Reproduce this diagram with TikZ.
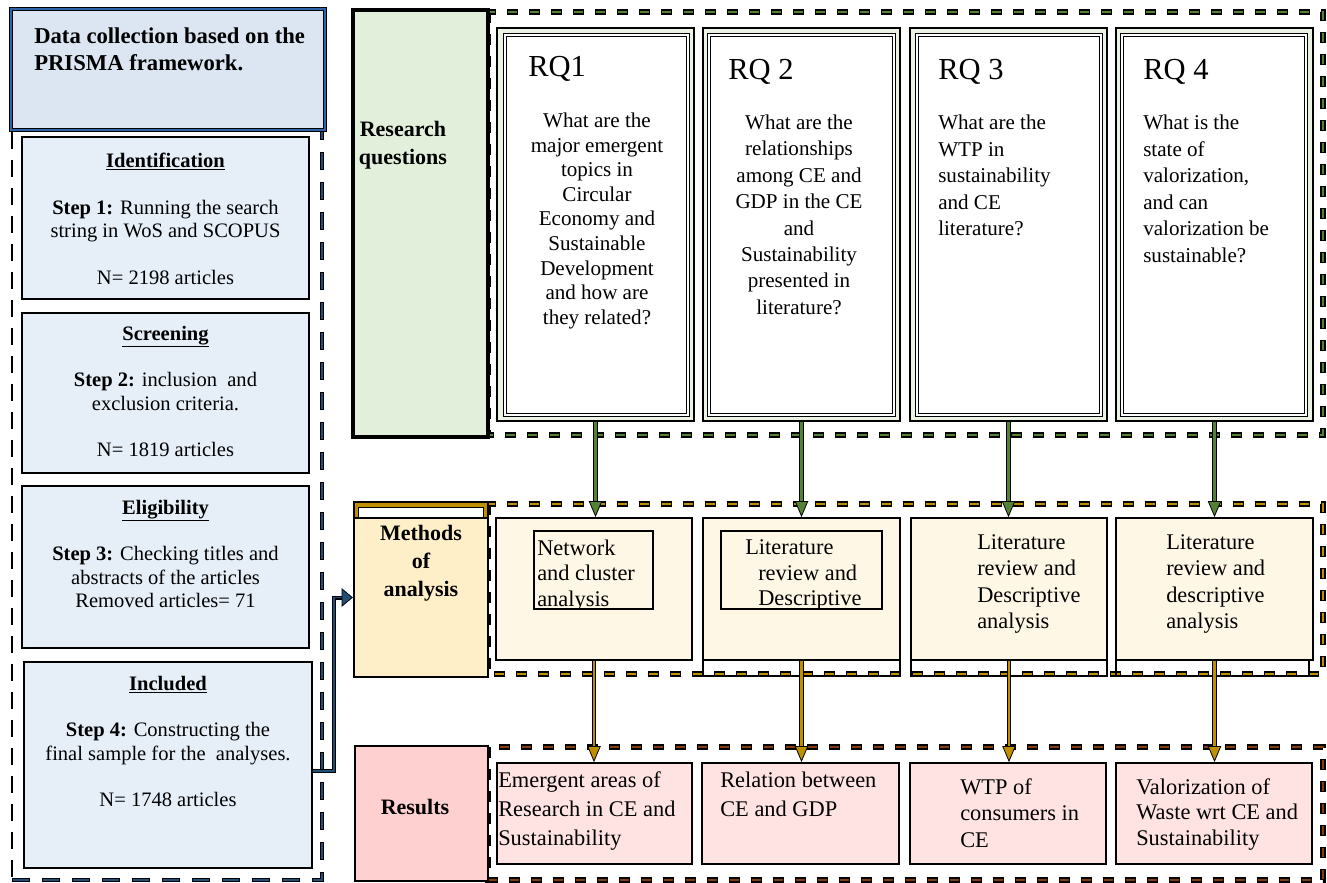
\documentclass[tikz,border=0pt]{standalone}
\usepackage{fontspec}
\setmainfont{Liberation Serif}
\usetikzlibrary{fit,arrows.meta}

\definecolor{navy}{HTML}{1F4E79}
\definecolor{titleblue}{HTML}{2E65A8}
\definecolor{titlefill}{HTML}{DCE6F2}
\definecolor{stepfill}{HTML}{E6EEF8}
\definecolor{leafgreen}{HTML}{548235}
\definecolor{rqlabelfill}{HTML}{E2EFDA}
\definecolor{rqframefill}{HTML}{EAF3E4}
\definecolor{gold}{HTML}{BF8F00}
\definecolor{methlabelfill}{HTML}{FFEFC9}
\definecolor{methfill}{HTML}{FFF7E5}
\definecolor{rustbrown}{HTML}{843C0C}
\definecolor{reslabelfill}{HTML}{FFD0D0}
\definecolor{resfill}{HTML}{FFE3E3}

\tikzset{
  boxframe/.style={inner sep=0pt, draw=black, line width=1.3pt},
  stepbox/.style={boxframe, fill=stepfill},
  rqframe/.style={boxframe, fill=rqframefill},
  rqinner/.style={inner sep=0pt, fill=white, draw=black, line width=0.7pt, double=white, double distance=1.6pt},
  methbox/.style={boxframe, fill=methfill},
  resbox/.style={boxframe, fill=resfill},
  backline/.style={inner sep=0pt, draw=black, line width=0.8pt},
  % short bold dashes with a black rim
  dashouter/.style={draw=black, line width=3.8pt, dash pattern=on 8pt off 8.5pt},
  dashinner/.style={line width=2.2pt, dash pattern=on 6.8pt off 9.7pt, dash phase=15.9pt},
  % longer dashes for the PRISMA column
  longouter/.style={draw=black, line width=3.4pt, dash pattern=on 13.5pt off 9pt},
  longinner/.style={line width=1.9pt, dash pattern=on 12.2pt off 10.3pt, dash phase=21.85pt},
  txt/.style={inner sep=0pt},
  lefttxt/.style={txt, anchor=north, align=center, font=\fontsize{15.4pt}{17.5pt}\selectfont},
  rqhead/.style={txt, anchor=north west, font=\fontsize{22.9pt}{26pt}\selectfont},
  labeltxt/.style={txt, anchor=north, align=center, font=\bfseries\fontsize{16.5pt}{21pt}\selectfont},
  shaftunder/.style={draw=black, line width=3.4pt, shorten >=10pt},
  greenarrow/.style={draw=leafgreen, line width=1.8pt,
    -{Triangle[length=12pt,width=10pt,fill=leafgreen,color=black,line width=0.6pt]}},
  goldarrow/.style={draw=gold, line width=1.8pt,
    -{Triangle[length=12pt,width=10pt,fill=gold,color=black,line width=0.6pt]}},
  navyarrow/.style={draw=navy, line width=1.4pt,
    -{Triangle[length=8.5pt,width=14pt,fill=navy,color=black,line width=0.6pt]}},
}

\begin{document}
\begin{tikzpicture}[x=0.75pt,y=-0.75pt]
\useasboundingbox (0,0) rectangle (1327,882);

% ---------------- left column: PRISMA steps ----------------
\draw[draw=black, line width=2.2pt, dash pattern=on 12.75pt off 8.25pt] (12,132) -- (12,880);
\draw[longouter] (12,880) -- (322,880) -- (322,132);
\draw[longinner, draw=navy] (12,880) -- (322,880) -- (322,132);

\node[fit={(11,9) (325,130)}, inner sep=0pt, fill=titlefill, draw=black, line width=1pt,
      double=titleblue, double distance=1.4pt] (title) {};
\node[txt, anchor=north west, align=left, font=\bfseries\fontsize{17pt}{20pt}\selectfont]
  (titletxt) at (34,27.5) {Data collection based on the\\PRISMA framework.};

\node[stepbox, fit={(22,137) (309,299)}] (ident) {};
\node[lefttxt] (identtxt) at (165.5,152.8)
  {\underline{\textbf{Identification}}\\[17.5pt]\textbf{Step 1:} Running the search\\string in WoS and SCOPUS\\[17.5pt]N= 2198 articles};

\node[stepbox, fit={(22,313) (309,473)}] (screen) {};
\node[lefttxt] (screentxt) at (165.5,325.8)
  {\underline{\textbf{Screening}}\\[17.5pt]\textbf{Step 2:} inclusion\ \ and\\exclusion criteria.\\[17.5pt]N= 1819 articles};

\node[stepbox, fit={(22,486) (309,648)}] (elig) {};
\node[lefttxt] (eligtxt) at (165.5,499.8)
  {\underline{\textbf{Eligibility}}\\[17.5pt]\textbf{Step 3:} Checking titles and\\abstracts of the articles\\Removed articles= 71};

\node[stepbox, fit={(24,662) (312,868)}] (incl) {};
\node[lefttxt] (incltxt) at (168,675.8)
  {\underline{\textbf{Included}}\\[17.5pt]\textbf{Step 4:} Constructing the\\final sample for the\ \ analyses.\\[17.5pt]N= 1748 articles};

% ---------------- research questions ----------------
\draw[dashouter] (488,12) rectangle (1323,435);
\draw[dashinner, draw=leafgreen] (488,12) rectangle (1323,435);

\node[fit={(353,10) (488,437)}, inner sep=0pt, fill=rqlabelfill, draw=black, line width=3pt] (rqlabel) {};
\node[labeltxt] (rqlabeltxt) at (403,121.3) {Research\\questions};

\node[rqframe, fit={(497,28) (694,421)}] (rq1) {};
\node[rqinner, fit={(505,35) (688,415)}] (rq1in) {};
\node[rqframe, fit={(703,28) (900,421)}] (rq2) {};
\node[rqinner, fit={(709,35) (894,415)}] (rq2in) {};
\node[rqframe, fit={(910,28) (1107,421)}] (rq3) {};
\node[rqinner, fit={(917,35) (1101,415)}] (rq3in) {};
\node[rqframe, fit={(1116,28) (1313,421)}] (rq4) {};
\node[rqinner, fit={(1122,35) (1306,415)}] (rq4in) {};

\node[rqhead] (rq1h) at (528,56.3) {RQ1};
\node[rqhead] (rq2h) at (728,59.3) {RQ 2};
\node[rqhead] (rq3h) at (938,59.3) {RQ 3};
\node[rqhead] (rq4h) at (1143,59.3) {RQ 4};

\node[txt, anchor=north, align=center, font=\fontsize{15.8pt}{18.45pt}\selectfont] (rq1txt) at (597,112.6)
  {What are the\\major emergent\\topics in\\Circular\\Economy and\\Sustainable\\Development\\and how are\\they related?};
\node[txt, anchor=north, align=center, font=\fontsize{15.8pt}{19.8pt}\selectfont] (rq2txt) at (799,114.6)
  {What are the\\relationships\\among CE and\\GDP in the CE\\and\\Sustainability\\presented in\\literature?};
\node[txt, anchor=north west, align=left, font=\fontsize{15.8pt}{19.9pt}\selectfont] (rq3txt) at (938,114.6)
  {What are the\\WTP in\\sustainability\\and CE\\literature?};
\node[txt, anchor=north west, align=left, font=\fontsize{15.8pt}{19.9pt}\selectfont] (rq4txt) at (1143,114.6)
  {What is the\\state of\\valorization,\\and can\\valorization be\\sustainable?};

% ---------------- methods of analysis ----------------
\draw[dashouter] (488,504) rectangle (1323,674);
\draw[dashinner, draw=gold] (488,504) rectangle (1323,674);

\node[fit={(354,502) (488,518)}, inner sep=0pt, fill=gold, draw=black, line width=1.6pt] (methband) {};
\node[fit={(358,507) (483,518)}, inner sep=0pt, fill=white, draw=black, line width=0.6pt] (methbandin) {};
\node[fit={(354,518) (488,677)}, inner sep=0pt, fill=methlabelfill, draw=black, line width=1.6pt] (meth) {};
\node[labeltxt] (methtxt) at (421,525.3) {Methods\\of\\analysis};

\node[backline, fit={(703,518) (900,676)}] (m2back) {};
\node[backline, fit={(911,518) (1107,676)}] (m3back) {};
\node[backline, fit={(1116,518) (1309,676)}] (m4back) {};

\node[methbox, fit={(496,518) (692,660)}] (m1) {};
\node[methbox, fit={(703,518) (900,660)}] (m2) {};
\node[methbox, fit={(911,518) (1107,660)}] (m3) {};
\node[methbox, fit={(1116,518) (1313,660)}] (m4) {};

\begin{scope}
  \clip (534,531) rectangle (653,609);
  \node[txt, anchor=north west, align=left, font=\fontsize{16.8pt}{19.3pt}\selectfont] (m1txt) at (537,539.2)
    {Network\\and cluster\\analysis};
\end{scope}
\node[boxframe, fit={(534,531) (653,609)}] (m1in) {};

\begin{scope}
  \clip (721,531) rectangle (882,609);
  \node[txt, anchor=north west, align=left, font=\fontsize{16.8pt}{19.3pt}\selectfont] (m2txt) at (758,539.2)
    {\hspace*{-9.75pt}Literature\\review and\\Descriptive};
\end{scope}
\node[boxframe, fit={(721,531) (882,609)}] (m2in) {};

\node[txt, anchor=north west, align=left, font=\fontsize{16.8pt}{19.9pt}\selectfont] (m3txt) at (977,534.2)
  {Literature\\review and\\Descriptive\\analysis};
\node[txt, anchor=north west, align=left, font=\fontsize{16.8pt}{19.9pt}\selectfont] (m4txt) at (1166,534.2)
  {Literature\\review and\\descriptive\\analysis};

% ---------------- results ----------------
\draw[dashouter] (488,747) rectangle (1323,880);
\draw[dashinner, draw=rustbrown] (488,747) rectangle (1323,880);

\node[fit={(355,746) (488,881)}, inner sep=0pt, fill=reslabelfill, draw=black, line width=1.4pt] (res) {};
\node[labeltxt] (restxt) at (415,799.3) {Results};

\node[resbox, fit={(497,763) (692,864)}] (r1) {};
\node[resbox, fit={(702,763) (899,864)}] (r2) {};
\node[resbox, fit={(910,763) (1106,864)}] (r3) {};
\node[resbox, fit={(1116,763) (1312,864)}] (r4) {};

\node[txt, anchor=north west, align=left, font=\fontsize{16.8pt}{21.75pt}\selectfont] (r1txt) at (498,771.2)
  {Emergent areas of\\Research in CE and\\Sustainability};
\node[txt, anchor=north west, align=left, font=\fontsize{16.8pt}{21.75pt}\selectfont] (r2txt) at (720,771.2)
  {Relation between\\CE and GDP};
\node[txt, anchor=north west, align=left, font=\fontsize{16.8pt}{19.9pt}\selectfont] (r3txt) at (960,778.2)
  {WTP of\\consumers in\\CE};
\node[txt, anchor=north west, align=left, font=\fontsize{16.8pt}{19.3pt}\selectfont] (r4txt) at (1136,778.2)
  {Valorization of\\Waste wrt CE and\\Sustainability};

% ---------------- connectors ----------------
\draw[draw=black, line width=3pt, shorten >=7pt] ([yshift=-4.5pt]incl.east) -- ++(21,0) |- (meth.west);
\draw[navyarrow] ([yshift=-4.5pt]incl.east) -- ++(21,0) |- (meth.west);

\foreach \i in {1,...,4} {
  \draw[shaftunder] (rq\i.south) -- (rq\i.south |- m\i.north);
  \draw[greenarrow] (rq\i.south) -- (rq\i.south |- m\i.north);
  \draw[shaftunder] (m\i.south) -- (m\i.south |- r\i.north);
  \draw[goldarrow] (m\i.south) -- (m\i.south |- r\i.north);
}
\end{tikzpicture}
\end{document}
